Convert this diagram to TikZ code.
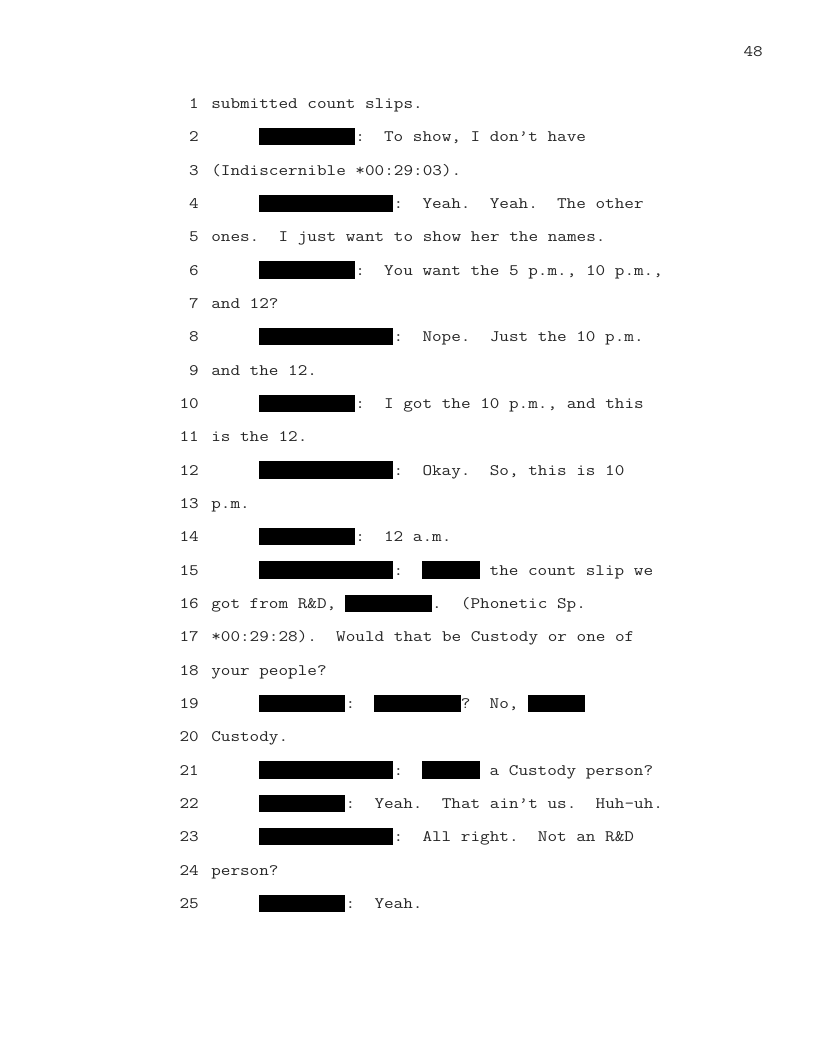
\documentclass[tikz,border=0pt]{standalone}
\usepackage{fontspec}
\newfontfamily\trfont[FakeStretch=1.167]{Latin Modern Mono}
\usepackage{tikz}

% column and baseline of the transcript grid (in px of the page)
\newcommand\cx[1]{211+9.6*#1}
\newcommand\by[1]{75.27+33.33*#1}
\newcommand\redact[3]{\fill[black] (\cx{#2},\by{#1}-14) rectangle (\cx{#3},\by{#1}+3.3);}

\tikzset{
  trtext/.style={font={\trfont\fontsize{12}{14}\selectfont\frenchspacing}, black!85, inner sep=0pt},
  lnum/.style={trtext, anchor=base east},
  ltext/.style={trtext, anchor=base west},
}

\begin{document}
\begin{tikzpicture}[x=0.75pt,y=-0.75pt]
        \useasboundingbox (0,0) rectangle (816,1056);
        \fill[white] (0,0) rectangle (816,1056);

        \node[lnum] (page) at (763,57) {48};

        \foreach \i in {1,...,25}
            \node[lnum] (num\i) at (199,\by{\i}) {\i};

        \node[ltext] (line1) at (\cx{0},\by{1}) {submitted count slips.};
        \redact{2}{5}{15}
        \node[ltext] (line2) at (\cx{15},\by{2}) {:~ To show, I don’t have};
        \node[ltext] (line3) at (\cx{0},\by{3}) {(Indiscernible *00:29:03).};
        \redact{4}{5}{19}
        \node[ltext] (line4) at (\cx{19},\by{4}) {:~ Yeah.~ Yeah.~ The other};
        \node[ltext] (line5) at (\cx{0},\by{5}) {ones.~ I just want to show her the names.};
        \redact{6}{5}{15}
        \node[ltext] (line6) at (\cx{15},\by{6}) {:~ You want the 5 p.m., 10 p.m.,};
        \node[ltext] (line7) at (\cx{0},\by{7}) {and 12?};
        \redact{8}{5}{19}
        \node[ltext] (line8) at (\cx{19},\by{8}) {:~ Nope.~ Just the 10 p.m.};
        \node[ltext] (line9) at (\cx{0},\by{9}) {and the 12.};
        \redact{10}{5}{15}
        \node[ltext] (line10) at (\cx{15},\by{10}) {:~ I got the 10 p.m., and this};
        \node[ltext] (line11) at (\cx{0},\by{11}) {is the 12.};
        \redact{12}{5}{19}
        \node[ltext] (line12) at (\cx{19},\by{12}) {:~ Okay.~ So, this is 10};
        \node[ltext] (line13) at (\cx{0},\by{13}) {p.m.};
        \redact{14}{5}{15}
        \node[ltext] (line14) at (\cx{15},\by{14}) {:~ 12 a.m.};
        \redact{15}{5}{19}
        \node[ltext] (line15a) at (\cx{19},\by{15}) {:};
        \redact{15}{22}{28}
        \node[ltext] (line15b) at (\cx{29},\by{15}) {the count slip we};
        \node[ltext] (line16a) at (\cx{0},\by{16}) {got from R\&D,};
        \redact{16}{14}{23}
        \node[ltext] (line16b) at (\cx{23},\by{16}) {.~ (Phonetic Sp.};
        \node[ltext] (line17) at (\cx{0},\by{17}) {*00:29:28).~ Would that be Custody or one of};
        \node[ltext] (line18) at (\cx{0},\by{18}) {your people?};
        \redact{19}{5}{14}
        \node[ltext] (line19a) at (\cx{14},\by{19}) {:};
        \redact{19}{17}{26}
        \node[ltext] (line19b) at (\cx{26},\by{19}) {?~ No,};
        \redact{19}{33}{39}
        \node[ltext] (line20) at (\cx{0},\by{20}) {Custody.};
        \redact{21}{5}{19}
        \node[ltext] (line21a) at (\cx{19},\by{21}) {:};
        \redact{21}{22}{28}
        \node[ltext] (line21b) at (\cx{29},\by{21}) {a Custody person?};
        \redact{22}{5}{14}
        \node[ltext] (line22) at (\cx{14},\by{22}) {:~ Yeah.~ That ain’t us.~ Huh-uh.};
        \redact{23}{5}{19}
        \node[ltext] (line23) at (\cx{19},\by{23}) {:~ All right.~ Not an R\&D};
        \node[ltext] (line24) at (\cx{0},\by{24}) {person?};
        \redact{25}{5}{14}
        \node[ltext] (line25) at (\cx{14},\by{25}) {:~ Yeah.};
    \end{tikzpicture}
\end{document}
